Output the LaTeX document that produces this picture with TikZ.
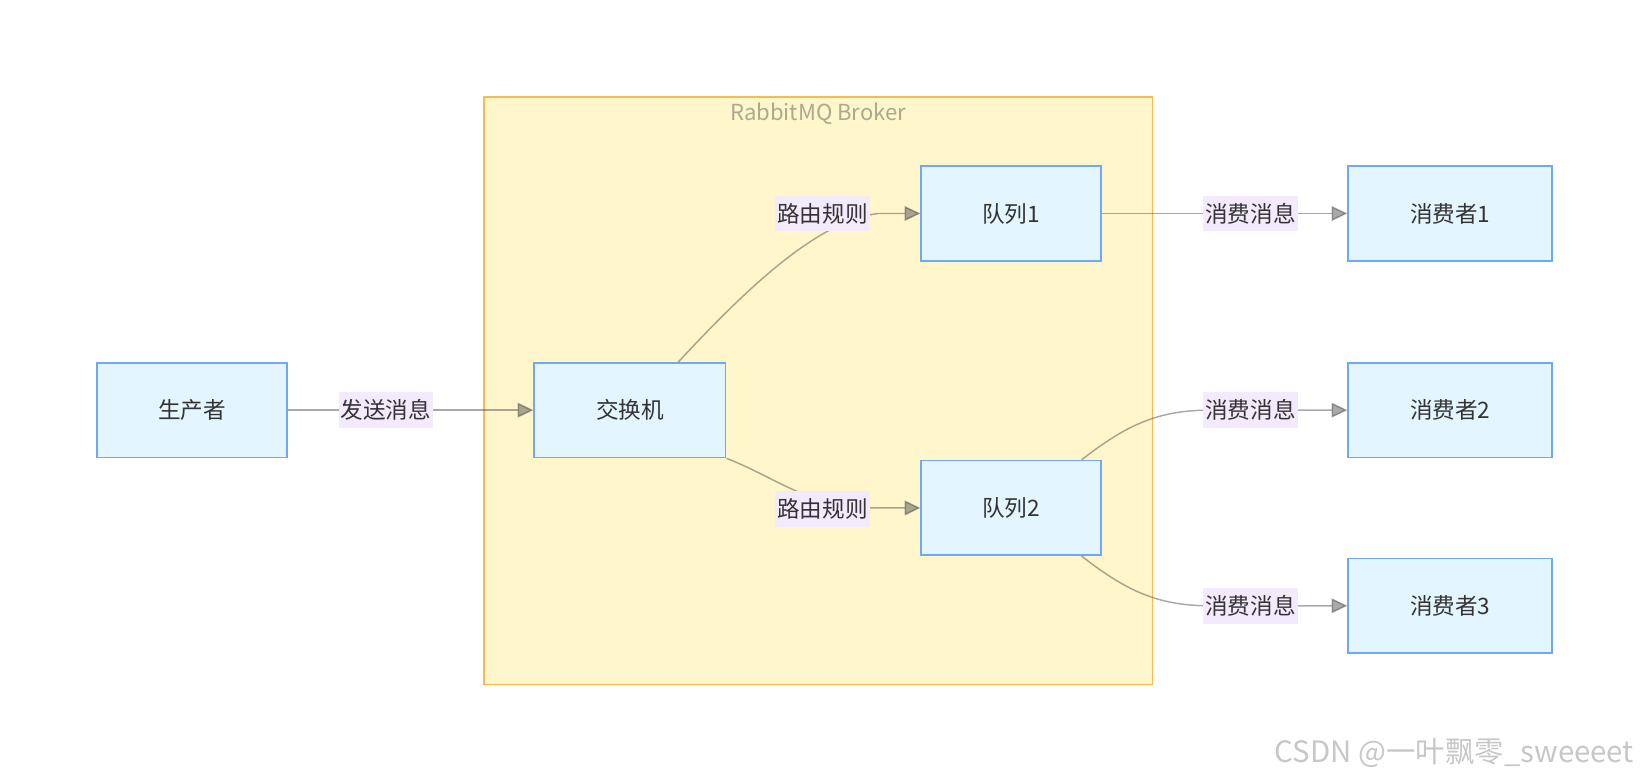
\documentclass[tikz,border=0pt]{standalone}
\usepackage{fontspec}
\setmainfont{Noto Sans CJK SC}
\usepackage{tikz}
\usetikzlibrary{arrows.meta}

\definecolor{boxfill}{HTML}{E3F5FE}
\definecolor{boxline}{HTML}{72A7F4}
\definecolor{brokerfill}{HTML}{FFF6CC}
\definecolor{brokerline}{HTML}{F7BC50}
\definecolor{brokertext}{HTML}{ABA98E}
\definecolor{lblfill}{HTML}{F3EBFD}
\definecolor{edgecol}{HTML}{333333}
\definecolor{txt}{HTML}{333333}

\tikzset{
	mqbox/.style={draw=boxline, fill=boxfill, line width=1.6pt, minimum height=90pt, text=txt, font=\fontsize{21.5}{26}\selectfont, inner sep=0pt},
	lbl/.style={fill=lblfill, text=txt, font=\fontsize{21.5}{26}\selectfont, inner xsep=2pt, inner ysep=0pt, minimum height=34pt},
	edge/.style={draw=edgecol, opacity=0.42, line width=1.4pt, -{Triangle[length=15pt, width=14pt, fill=edgecol]}}
}

\begin{document}
\begin{tikzpicture}[x=1pt, y=-1pt]
	\useasboundingbox (0,0) rectangle (1568,742.6);
	
	\draw[brokerline, fill=brokerfill, line width=1.6pt] (460,92) rectangle (1096,651);
	\node[text=brokertext, font=\fontsize{21}{24}\selectfont] (broker) at (778,108) {RabbitMQ Broker};
	
	\node[mqbox, minimum width=181pt] (prod) at (182.5,390) {生产者};
	\node[mqbox, minimum width=182pt] (exch) at (599,390) {交换机};
	\node[mqbox, minimum width=171pt] (q1) at (961.5,203) {队列1};
	\node[mqbox, minimum width=171pt] (q2) at (961.5,483) {队列2};
	\node[mqbox, minimum width=194pt] (c1) at (1379,203) {消费者1};
	\node[mqbox, minimum width=194pt] (c2) at (1379,390) {消费者2};
	\node[mqbox, minimum width=194pt] (c3) at (1379,576) {消费者3};
	
	\draw[edge] (prod) -- (exch);
	\draw[edge] ([xshift=46pt]exch.north) .. controls (712,272) and (778,210) .. (835,203) -- (q1.west);
	\draw[edge] (exch.south east) .. controls (740,455) and (770,483) .. (830,483) -- (q2.west);
	\draw[edge] (q1) -- (c1);
	\draw[edge] ([xshift=67pt]q2.north) .. controls (1070,405) and (1100,390) .. (1150,390) -- (c2.west);
	\draw[edge] ([xshift=67pt]q2.south) .. controls (1070,561) and (1100,576) .. (1150,576) -- (c3.west);
	
	\node[lbl] (send) at (367,390) {发送消息};
	\node[lbl] (route1) at (782,203) {路由规则};
	\node[lbl] (route2) at (782,484) {路由规则};
	\node[lbl] (use1) at (1189,203) {消费消息};
	\node[lbl] (use2) at (1189,390) {消费消息};
	\node[lbl] (use3) at (1189,576) {消费消息};
	
	\node[text=black!22, font=\fontsize{28}{32}\selectfont] (mark) at (1383,716) {CSDN @一叶飘零\_sweeeet};
\end{tikzpicture}
\end{document}
